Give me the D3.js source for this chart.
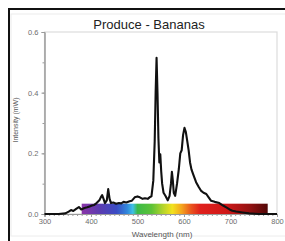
<!DOCTYPE html>
<html>
<head>
<meta charset="utf-8">
<script src="https://cdn.jsdelivr.net/npm/d3@7"></script>
<style>
  body { margin: 0; background: #fff; }
  svg { display: block; font-family: "Liberation Sans", Arial, sans-serif; }
</style>
</head>
<body>
<svg id="chart"></svg>
<script>
const width = 285;
const height = 241;

// spectrum
const wavelength = [300, 330, 345, 352, 357, 362, 368, 374, 379, 386, 392, 397, 402, 407, 412, 418, 421, 424, 427, 430,
  434, 437, 440, 443, 448, 454, 460, 465, 470, 476, 483, 488, 494, 500, 505, 511, 516, 522, 526, 530,
  534, 537, 539, 541, 543, 545, 547, 549, 551, 553, 556, 560, 565, 569, 572, 574, 576, 578, 581, 585,
  589, 592, 595, 598, 601, 604, 607, 610, 613, 616, 620, 626, 632, 637, 642, 648, 653, 658, 666, 676,
  684, 691, 698, 704, 712, 726, 740, 760, 800];
const intensity = [0, 0, 0.002, 0.008, 0.013, 0.01, 0.017, 0.023, 0.015, 0.02, 0.022, 0.025, 0.028, 0.03, 0.036, 0.045, 0.055, 0.062, 0.05, 0.036,
  0.045, 0.082, 0.05, 0.036, 0.038, 0.034, 0.036, 0.035, 0.04, 0.038, 0.042, 0.044, 0.055, 0.058, 0.055, 0.05, 0.052, 0.05, 0.055, 0.058,
  0.11, 0.24, 0.40, 0.515, 0.40, 0.25, 0.17, 0.197, 0.14, 0.10, 0.07, 0.06, 0.045, 0.06, 0.10, 0.139, 0.11, 0.07, 0.06, 0.10,
  0.15, 0.20, 0.21, 0.26, 0.284, 0.27, 0.24, 0.21, 0.17, 0.147, 0.13, 0.105, 0.088, 0.076, 0.07, 0.066, 0.055, 0.044, 0.04, 0.036,
  0.028, 0.022, 0.015, 0.011, 0.008, 0.005, 0.002, 0, 0];

const xTicks = [300, 400, 500, 600, 700, 800];
const yTicks = [0, 0.2, 0.4, 0.6];

// visible band under the curve
const bandStops = [380, 420, 455, 478, 490, 500, 530, 555, 575, 595, 615, 635, 690, 740, 780];
const bandColors = ["#8a34a8", "#5a3cb0", "#3a4cc4", "#3288dc", "#3fc0e6", "#3cba48", "#5cc238", "#b4d42c", "#f2e21e",
  "#f4a41e", "#ea561e", "#e0201c", "#d01818", "#961212", "#520808"];

const svg = d3.select("#chart").attr("width", width).attr("height", height);

// outer frame
svg.append("rect").attr("x", 11).attr("y", 14).attr("width", 280).attr("height", 222)
  .attr("fill", "none").attr("stroke", "#ececec");
svg.append("path").attr("d", "M9,241V9H285")
  .attr("fill", "none").attr("stroke", "#111").attr("stroke-width", 2);

const x = d3.scaleLinear().domain([300, 800]).range([44.5, 277]);
const y = d3.scaleLinear().domain([0, 0.6]).range([214, 32]);

// plot box
svg.append("rect")
  .attr("x", x(300)).attr("y", y(0.6))
  .attr("width", x(800) - x(300)).attr("height", y(0) - y(0.6))
  .attr("fill", "none").attr("stroke", "#dcdcdc").attr("stroke-width", 1.2);

// gradient band
const defs = svg.append("defs");
const grad = defs.append("linearGradient").attr("id", "band")
  .attr("gradientUnits", "userSpaceOnUse")
  .attr("x1", x(380)).attr("x2", x(780)).attr("y1", 0).attr("y2", 0);
bandStops.forEach((w, i) => {
  grad.append("stop").attr("offset", (w - 380) / 400).attr("stop-color", bandColors[i]);
});
svg.append("rect")
  .attr("x", x(380)).attr("y", y(0.034))
  .attr("width", x(780) - x(380)).attr("height", y(0) - y(0.034))
  .attr("fill", "url(#band)");

// axes
const xAxis = svg.append("g").attr("transform", `translate(0,${y(0)})`)
  .call(d3.axisBottom(x).tickValues(d3.range(300, 801, 10)).tickSize(2).tickFormat(""));
xAxis.append("g").call(d3.axisBottom(x).tickValues(xTicks).tickSize(3).tickFormat(d3.format("d")));
xAxis.selectAll("path, line").attr("stroke", "#9a9a9a");
xAxis.selectAll("text").attr("fill", "#6e6e6e").attr("font-size", 7.5).attr("dy", "0.5em");

const yAxis = svg.append("g").attr("transform", `translate(${x(300)},0)`)
  .call(d3.axisLeft(y).tickValues(d3.range(0, 0.61, 0.1)).tickSize(2).tickFormat(""));
yAxis.append("g").call(d3.axisLeft(y).tickValues(yTicks).tickSize(3).tickFormat(d3.format(".1f")));
yAxis.selectAll("path, line").attr("stroke", "#9a9a9a");
yAxis.selectAll("text").attr("fill", "#6e6e6e").attr("font-size", 7.5);

// spectrum line
const line = d3.line().x((d, i) => x(wavelength[i])).y(d => y(d)).curve(d3.curveLinear);
svg.append("path").datum(intensity)
  .attr("d", line)
  .attr("fill", "none").attr("stroke", "#111").attr("stroke-width", 2.1)
  .attr("stroke-linejoin", "round");

// labels
svg.append("text").attr("x", 149).attr("y", 29).attr("text-anchor", "middle")
  .attr("font-size", 13).attr("fill", "#222").text("Produce - Bananas");
svg.append("text").attr("x", 162).attr("y", 237).attr("text-anchor", "middle")
  .attr("font-size", 8).attr("fill", "#555").text("Wavelength (nm)");
svg.append("text").attr("transform", "translate(18,120) rotate(-90)").attr("text-anchor", "middle")
  .attr("font-size", 7).attr("fill", "#555").text("Intensity (mW)");
</script>
</body>
</html>
